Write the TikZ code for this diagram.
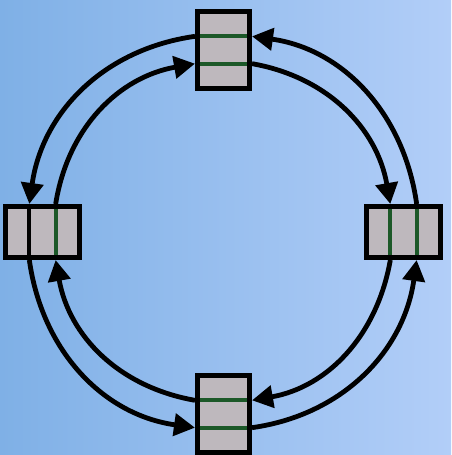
\documentclass[tikz,border=0pt]{standalone}
\usepackage{xcolor}
\usepackage{tikz}
\usetikzlibrary{arrows.meta,calc}
\definecolor{bgleft}{RGB}{127,176,230}
\definecolor{bgright}{RGB}{178,206,248}
\definecolor{boxgray}{RGB}{190,184,189}
\definecolor{divgreen}{RGB}{28,88,40}
\tikzset{
  ringbox/.style={draw, fill=boxgray, line width=2.5pt, inner sep=0pt},
  ringboxv/.style={ringbox, minimum width=26pt, minimum height=38.5pt},
  ringboxh/.style={ringbox, minimum width=37pt, minimum height=25.5pt},
  ringdiv/.style={draw=divgreen, line width=2pt, shorten <=2.5pt, shorten >=2.5pt},
  ringmsg/.style={-{Triangle[length=10.5pt,width=11pt]}, line width=2.4pt}
}
\begin{document}
\begin{tikzpicture}[x=0.5pt,y=0.5pt]
\shade[left color=bgleft, right color=bgright] (-223.5,-223) rectangle (227.5,232);
\useasboundingbox (-223.5,-223) rectangle (227.5,232);
\node[ringboxv] (top) at (0,182) {};
\node[ringboxv] (bottom) at (0,-182) {};
\node[ringboxh] (left) at (-181,0) {};
\node[ringboxh] (right) at (180,0) {};
\foreach \b in {top,bottom} {
  \draw[ringdiv] ($(\b.north west)!1/3!(\b.south west)$) coordinate (\b-w1) -- ($(\b.north east)!1/3!(\b.south east)$) coordinate (\b-e1);
  \draw[ringdiv] ($(\b.north west)!2/3!(\b.south west)$) coordinate (\b-w2) -- ($(\b.north east)!2/3!(\b.south east)$) coordinate (\b-e2);
}
\foreach \b/\c in {left/black,right/divgreen} {
  \draw[ringdiv,draw=\c] ($(\b.north west)!1/3!(\b.north east)$) coordinate (\b-n1) -- ($(\b.south west)!1/3!(\b.south east)$) coordinate (\b-s1);
  \draw[ringdiv] ($(\b.north west)!2/3!(\b.north east)$) coordinate (\b-n2) -- ($(\b.south west)!2/3!(\b.south east)$) coordinate (\b-s2);
}
% outer ring
\draw[ringmsg] (top-w1) to[out=188,in=82] (left-n1);
\draw[ringmsg] (left-s1) to[out=278,in=172] (bottom-w2);
\draw[ringmsg] (bottom-e2) to[out=8,in=262] (right-s2);
\draw[ringmsg] (right-n2) to[out=98,in=-8] (top-e1);
% inner ring
\draw[ringmsg] (left-n2) to[out=81,in=190] (top-w2);
\draw[ringmsg] (top-e2) to[out=-10,in=100] (right-n1);
\draw[ringmsg] (right-s1) to[out=260,in=10] (bottom-e1);
\draw[ringmsg] (bottom-w1) to[out=170,in=-80] (left-s2);
\end{tikzpicture}
\end{document}
